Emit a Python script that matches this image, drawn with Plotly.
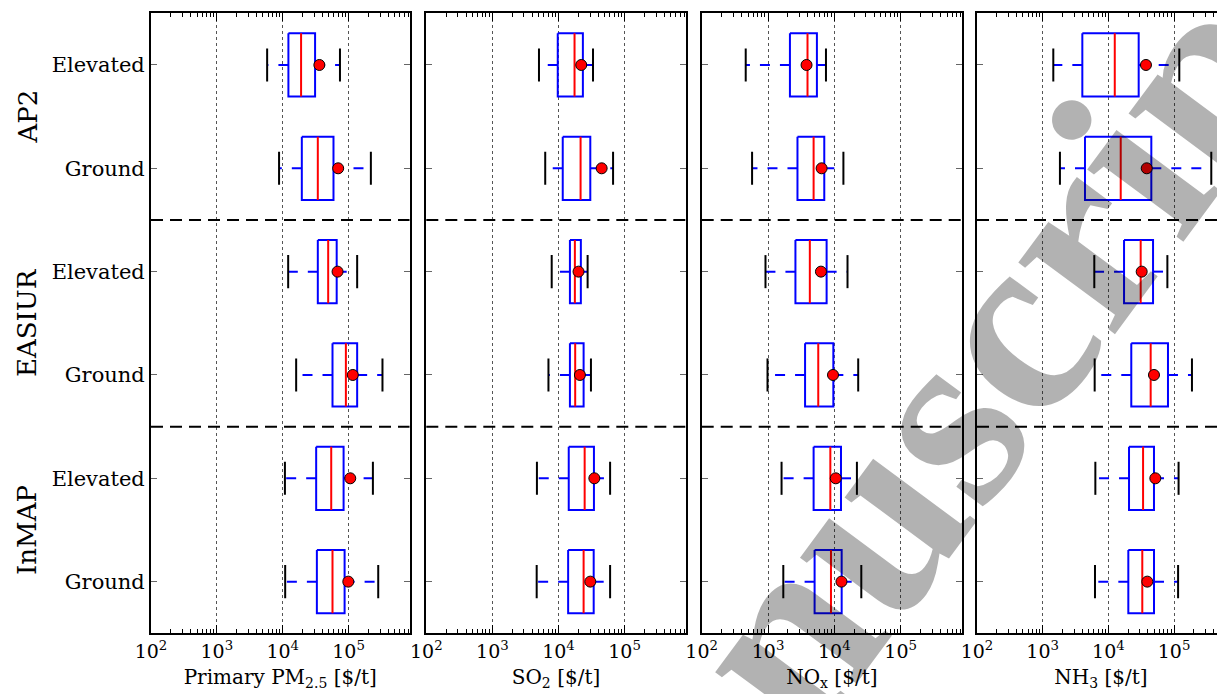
import math
import plotly.graph_objects as go

# page is 1225x694; the plot div sits 8px in from the top-left (body margin)
PAGE_W, PAGE_H = 1225, 694
OFF = 8
W, H = PAGE_W - OFF, PAGE_H - OFF

rows = ["AP2 Elevated", "AP2 Ground", "EASIUR Elevated", "EASIUR Ground", "InMAP Elevated", "InMAP Ground"]
row_ticklabels = ["Elevated", "Ground", "Elevated", "Ground", "Elevated", "Ground"]
groups = ["AP2", "EASIUR", "InMAP"]
pollutant_titles = ["Primary PM<sub>2.5</sub> [$/t]", "SO<sub>2</sub> [$/t]", "NO<sub>x</sub> [$/t]", "NH<sub>3</sub> [$/t]"]
xtick_vals = [1e2, 1e3, 1e4, 1e5]
xtick_text = ["10<sup>2</sup>", "10<sup>3</sup>", "10<sup>4</sup>", "10<sup>5</sup>"]
watermark_text = "anuscript"

# whisker low, q1, median, q3, whisker high, mean  [$/t]
pm25_wlo = [5.8e3, 8.8e3, 1.21e4, 1.6e4, 1.08e4, 1.09e4]
pm25_q1 = [1.22e4, 1.95e4, 3.41e4, 5.7e4, 3.22e4, 3.3e4]
pm25_med = [1.9e4, 3.41e4, 4.9e4, 9.1e4, 5.45e4, 5.7e4]
pm25_q3 = [3.1e4, 5.9e4, 6.6e4, 1.35e5, 8.4e4, 8.7e4]
pm25_whi = [7.4e4, 2.18e5, 1.35e5, 3.27e5, 2.34e5, 2.82e5]
pm25_mean = [3.6e4, 6.95e4, 6.8e4, 1.16e5, 1.06e5, 9.9e4]

so2_wlo = [5.07e3, 6.3e3, 7.9e3, 7.05e3, 4.72e3, 4.68e3]
so2_q1 = [9.75e3, 1.16e4, 1.49e4, 1.49e4, 1.43e4, 1.4e4]
so2_med = [1.75e4, 2.16e4, 1.77e4, 1.79e4, 2.49e4, 2.4e4]
so2_q3 = [2.34e4, 3.03e4, 2.18e4, 2.4e4, 3.44e4, 3.41e4]
so2_whi = [3.33e4, 6.7e4, 2.76e4, 3.1e4, 6.04e4, 6.04e4]
so2_mean = [2.21e4, 4.5e4, 2.01e4, 2.11e4, 3.49e4, 3.03e4]

nox_wlo = [461, 575, 916, 982, 1.6e3, 1.7e3]
nox_q1 = [2.14e3, 2.78e3, 2.59e3, 3.62e3, 4.87e3, 5.04e3]
nox_med = [3.94e3, 4.87e3, 4.27e3, 5.72e3, 8.7e3, 8.9e3]
nox_q3 = [5.46e3, 7.05e3, 7.65e3, 9.66e3, 1.26e4, 1.29e4]
nox_whi = [7.48e3, 1.37e4, 1.58e4, 2.29e4, 2.19e4, 2.55e4]
nox_mean = [3.81e3, 6.43e3, 6.28e3, 9.55e3, 1.05e4, 1.28e4]

nh3_wlo = [1.45e3, 1.83e3, 6.1e3, 6.18e3, 6.33e3, 6.25e3]
nh3_q1 = [4.01e3, 4.4e3, 1.73e4, 2.23e4, 2.06e4, 2.01e4]
nh3_med = [1.25e4, 1.54e4, 3.1e4, 4.4e4, 3.37e4, 3.28e4]
nh3_q3 = [2.89e4, 4.5e4, 4.78e4, 8.07e4, 4.94e4, 4.94e4]
nh3_whi = [1.2e5, 3.68e5, 7.9e4, 1.87e5, 1.17e5, 1.15e5]
nh3_mean = [3.73e4, 3.83e4, 3.21e4, 4.94e4, 5.18e4, 3.91e4]

panels = [
    (pm25_wlo, pm25_q1, pm25_med, pm25_q3, pm25_whi, pm25_mean),
    (so2_wlo, so2_q1, so2_med, so2_q3, so2_whi, so2_mean),
    (nox_wlo, nox_q1, nox_med, nox_q3, nox_whi, nox_mean),
    (nh3_wlo, nh3_q1, nh3_med, nh3_q3, nh3_whi, nh3_mean),
]


def px_x(p):
    return (p - OFF) / W


def px_y(p):
    return 1 - (p - OFF) / H


# layout geometry (page pixels)
panel_px = [(151, 409.5), (426.3, 685.7), (701.7, 962), (977, PAGE_W)]
x_upper = [5.925, 5.925, 5.925, 2 + (PAGE_W - 977) / 65.7]
top_px, bot_px = 13.3, 633.3
ydom = [px_y(bot_px), px_y(top_px)]

BOX_HALF = 0.306
CAP_HALF = 0.16
FONT = "DejaVu Serif"

fig = go.Figure()
for k, (wlo, q1, med, q3, whi, mean) in enumerate(panels):
    xa = "x" if k == 0 else f"x{k+1}"
    ya = "y" if k == 0 else f"y{k+1}"
    for i in range(len(rows)):
        p = i + 1
        # whiskers (drawn from box outward)
        fig.add_trace(go.Scatter(x=[q1[i], wlo[i]], y=[p, p], mode="lines",
                                 line=dict(color="#0000ff", width=2, dash="10px,10px"),
                                 xaxis=xa, yaxis=ya, showlegend=False, hoverinfo="skip"))
        fig.add_trace(go.Scatter(x=[q3[i], whi[i]], y=[p, p], mode="lines",
                                 line=dict(color="#0000ff", width=2, dash="10px,10px"),
                                 xaxis=xa, yaxis=ya, showlegend=False, hoverinfo="skip"))
        # caps
        for c in (wlo[i], whi[i]):
            fig.add_trace(go.Scatter(x=[c, c], y=[p - CAP_HALF, p + CAP_HALF], mode="lines",
                                     line=dict(color="black", width=2),
                                     xaxis=xa, yaxis=ya, showlegend=False, hoverinfo="skip"))
        # box
        fig.add_trace(go.Scatter(x=[q1[i], q3[i], q3[i], q1[i], q1[i]],
                                 y=[p - BOX_HALF, p - BOX_HALF, p + BOX_HALF, p + BOX_HALF, p - BOX_HALF],
                                 mode="lines", line=dict(color="#0000ff", width=2),
                                 xaxis=xa, yaxis=ya, showlegend=False, hoverinfo="skip"))
        # median
        fig.add_trace(go.Scatter(x=[med[i], med[i]], y=[p - BOX_HALF, p + BOX_HALF], mode="lines",
                                 line=dict(color="#ff0000", width=2),
                                 xaxis=xa, yaxis=ya, showlegend=False, hoverinfo="skip"))
    # means
    fig.add_trace(go.Scatter(x=mean, y=list(range(1, len(rows) + 1)), mode="markers",
                             marker=dict(color="#ff0000", size=11, line=dict(color="black", width=1)),
                             xaxis=xa, yaxis=ya, showlegend=False, hoverinfo="skip"))

    x0, x1 = panel_px[k]
    xkey = "xaxis" if k == 0 else f"xaxis{k+1}"
    ykey = "yaxis" if k == 0 else f"yaxis{k+1}"
    fig.layout[xkey] = dict(
        type="log", range=[2, x_upper[k]], domain=[px_x(x0), min(1, px_x(x1))], anchor=ya, automargin=False,
        tickvals=xtick_vals, ticktext=xtick_text, ticks="inside", ticklen=8, tickwidth=1,
        tickcolor="black", showline=True, linewidth=2, linecolor="black", mirror="ticks",
        showgrid=True, gridcolor="#555555", griddash="dot", gridwidth=1, zeroline=False,
        minor=dict(ticks="inside", ticklen=4, tickcolor="black", dtick="D1", showgrid=False),
        tickfont=dict(family=FONT, size=19, color="black"),
        title=dict(text=pollutant_titles[k], font=dict(family=FONT, size=20, color="black"), standoff=9),
    )
    ydict = dict(
        range=[6.5, 0.5], domain=ydom, anchor=xa, automargin=False,
        tickvals=list(range(1, 7)), showticklabels=(k == 0),
        ticks="inside", ticklen=6, tickcolor="#666666", tickwidth=1,
        showline=True, linewidth=2, linecolor="black", mirror=("ticks" if k < 3 else False),
        showgrid=False, zeroline=False,
        tickfont=dict(family=FONT, size=21, color="black"),
    )
    if k == 0:
        ydict["ticktext"] = row_ticklabels
    fig.layout[ykey] = ydict
    # group separators
    for ysep in (2.5, 4.5):
        fig.add_shape(type="line", xref=f"{xa} domain", yref=ya, x0=0, x1=1, y0=ysep, y1=ysep,
                      line=dict(color="black", width=2, dash="12px,7px"))

# group labels
group_centers_px = [116.5, 323, 530]
for g, cy in zip(groups, group_centers_px):
    fig.add_annotation(text=g, xref="paper", yref="paper", x=px_x(27), y=px_y(cy),
                       textangle=-90, showarrow=False, xanchor="center", yanchor="middle",
                       font=dict(family=FONT, size=26, color="black"))

# diagonal "manuscript" watermark (semi-transparent, drawn over the chart)
WM_SIZE = 262
WM_ANGLE = 53.5
fig.add_annotation(text=f"<b>{watermark_text}</b>", xref="paper", yref="paper",
                   x=px_x(976), y=px_y(374), textangle=-WM_ANGLE, showarrow=False,
                   xanchor="center", yanchor="middle", borderpad=0,
                   font=dict(family="Liberation Serif", size=WM_SIZE, color="rgba(0,0,0,0.3)"))

fig.update_layout(width=W, height=H, margin=dict(l=0, r=0, t=0, b=0),
                  plot_bgcolor="white", paper_bgcolor="white", showlegend=False)

fig.write_html("out.html")
